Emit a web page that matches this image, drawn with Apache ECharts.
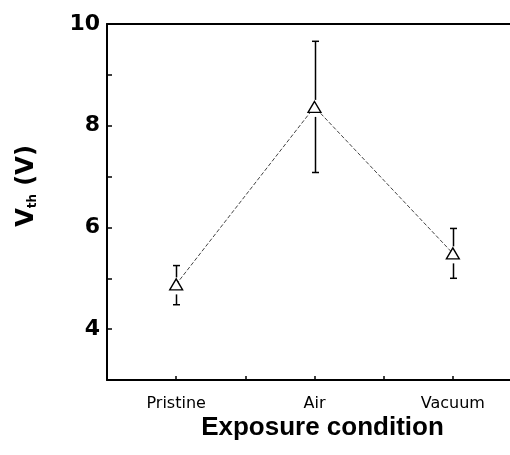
<!DOCTYPE html>
<html>
<head>
<meta charset="utf-8">
<script src="https://cdn.jsdelivr.net/npm/echarts@6/dist/echarts.min.js"></script>
<style>
html,body{margin:0;padding:0;background:#fff;}
#chart{width:510px;height:455px;}
</style>
</head>
<body>
<div id="chart"></div>
<script>
var categories = ['Pristine', 'Air', 'Vacuum'];
var vthValues = [4.88, 8.37, 5.49];
var errLow = [4.48, 7.08, 5.00];
var errHigh = [5.25, 9.66, 5.98];
var yTickLabels = ['4', '6', '8', '10'];

var points = vthValues.map(function (v, i) { return [i + 1, v]; });
var errData = vthValues.map(function (v, i) { return [i + 1, errLow[i], errHigh[i], v]; });

var chart = echarts.init(document.getElementById('chart'), null, {renderer: 'canvas'});

chart.setOption({
  animation: false,
  backgroundColor: '#fff',
  grid: {left: 107, top: 24, width: 415, height: 356, containLabel: false, outerBoundsMode: 'none'},
  xAxis: [{
    type: 'value', min: 0.5, max: 3.5, interval: 0.5,
    axisLine: {show: true, onZero: false, lineStyle: {color: '#000', width: 2}},
    axisTick: {show: true, inside: true, length: 4, lineStyle: {color: '#000', width: 1.5}},
    splitLine: {show: false},
    axisLabel: {
      margin: 16, color: '#000', fontFamily: 'DejaVu Sans', fontSize: 16,
      formatter: function (v) {
        var k = Math.round(v);
        return (Math.abs(v - k) < 1e-6 && k >= 1 && k <= categories.length) ? categories[k - 1] : '';
      }
    },
    name: 'Exposure condition', nameLocation: 'middle', nameGap: 35, nameMoveOverlap: false,
    nameTextStyle: {color: '#000', fontFamily: 'Liberation Sans', fontWeight: 'bold', fontSize: 26, padding: [0, 0, 0, 16]}
  }, {
    type: 'value', position: 'top', min: 0.5, max: 3.5,
    axisLine: {show: true, lineStyle: {color: '#000', width: 2}},
    axisTick: {show: false}, axisLabel: {show: false}, splitLine: {show: false}
  }],
  yAxis: [{
    type: 'value', min: 3, max: 10, interval: 1,
    axisLine: {show: true, onZero: false, lineStyle: {color: '#000', width: 2}},
    axisTick: {show: true, inside: true, length: 5, lineStyle: {color: '#000', width: 1.5}},
    splitLine: {show: false},
    axisLabel: {
      margin: 7, color: '#000', fontFamily: 'DejaVu Sans', fontWeight: 'bold', fontSize: 22,
      formatter: function (v) {
        var s = String(Math.round(v));
        return yTickLabels.indexOf(s) >= 0 ? s : '';
      }
    },
    name: '{v|V}{s|th}{v| (V)}', nameLocation: 'middle', nameGap: 68, nameRotate: 90,
    nameTextStyle: {
      padding: [0, 0, 0, 32],
      rich: {
        v: {color: '#000', fontFamily: 'DejaVu Sans', fontWeight: 'bold', fontSize: 24},
        s: {color: '#000', fontFamily: 'DejaVu Sans', fontWeight: 'bold', fontSize: 12, verticalAlign: 'bottom', padding: [12, 0, 0, 0]}
      }
    }
  }],
  series: [{
    type: 'line', data: points, z: 2,
    lineStyle: {color: '#444', width: 1, type: [4, 2]},
    symbol: 'triangle', symbolSize: [13, 11],
    itemStyle: {color: '#fff', borderColor: '#000', borderWidth: 1.3}
  }, {
    type: 'custom', data: errData, z: 3,
    renderItem: function (params, api) {
      var c = api.coord([api.value(0), api.value(3)]);
      var lo = api.coord([api.value(0), api.value(1)]);
      var hi = api.coord([api.value(0), api.value(2)]);
      var x = Math.round(c[0]) + 0.5;
      var st = {stroke: '#000', lineWidth: 1.5};
      var cw = 3.5;
      var children = [];
      if (c[1] - 7 > hi[1]) {
        children.push({type: 'line', shape: {x1: x, y1: hi[1], x2: x, y2: c[1] - 7}, style: st});
      }
      children.push({type: 'line', shape: {x1: x - cw, y1: hi[1], x2: x + cw, y2: hi[1]}, style: st});
      children.push({type: 'line', shape: {x1: x, y1: c[1] + 10, x2: x, y2: lo[1]}, style: st});
      children.push({type: 'line', shape: {x1: x - cw, y1: lo[1], x2: x + cw, y2: lo[1]}, style: st});
      return {type: 'group', children: children};
    }
  }]
});
</script>
</body>
</html>
